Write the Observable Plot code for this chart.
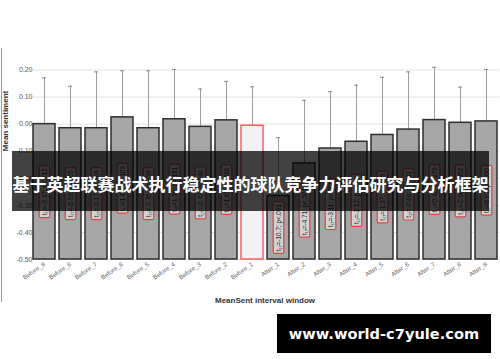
<!DOCTYPE html>
<html><head><meta charset="utf-8">
<script src="https://cdn.jsdelivr.net/npm/d3@7"></script>
<script src="https://cdn.jsdelivr.net/npm/@observablehq/plot@0.6"></script>
<style>
body{margin:0;background:#fff;}
#wrap{position:relative;width:500px;height:362px;overflow:hidden;font-family:"Liberation Sans",Arial,sans-serif;background:#fff;}
#wrap svg{position:absolute;left:0;top:0;}
.abs{position:absolute;}
#border{left:1px;top:48px;width:1px;height:254px;background:#9a9a9a;}
#ylab{left:4.5px;top:121px;transform:translate(-50%,-50%) rotate(-90deg);font-weight:bold;font-size:8px;color:#333;white-space:nowrap;}
#xlab{left:265px;top:296px;transform:translateX(-50%);font-weight:bold;font-size:8px;color:#333;white-space:nowrap;}
#banner{left:12px;top:151px;width:477px;height:60px;background:rgba(0,0,0,0.74);color:#fff;font-family:"Noto Sans CJK SC",sans-serif;font-weight:bold;font-size:17px;display:flex;align-items:center;justify-content:center;padding-top:5px;box-sizing:border-box;white-space:nowrap;}
#mark{left:277px;top:314px;width:214px;height:39px;background:#000;color:#fff;font-family:"DejaVu Sans",sans-serif;font-weight:bold;font-size:14.6px;display:flex;align-items:center;justify-content:center;white-space:nowrap;}
</style></head>
<body><div id="wrap"></div>
<script>
const windows = ["Before_9","Before_8","Before_7","Before_6","Before_5","Before_4","Before_3","Before_2","Before_1",
  "After_1","After_2","After_3","After_4","After_5","After_6","After_7","After_8","After_9"];
const meanValues = [0.000,-0.015,-0.015,0.025,-0.015,0.018,-0.010,0.014,-0.006,
  -0.265,-0.145,-0.090,-0.065,-0.040,-0.020,0.015,0.005,0.010];
const upperValues = [0.171,0.140,0.193,0.197,0.197,0.202,0.130,0.158,0.138,
  -0.050,0.088,0.120,0.144,0.173,0.193,0.210,0.137,0.202];
const tLabels = ["t₁₇=-0.37; p=.712","t₁₇=-0.59; p=.555","t₁₇=-0.17; p=.868","t₁₇=1.69; p=.109","t₁₇=-0.35; p=.728",
  "t₁₇=1.36; p=.191","t₁₇=-0.47; p=.646","t₁₇=1.65; p=.116","",
  "t₁₇=-10.7; p<.001","t₁₇=-4.71; p<.001","t₁₇=-3.11; p=.006","t₁₇=-2.12; p=.049","t₁₇=-1.37; p=.188",
  "t₁₇=-0.66; p=.511","t₁₇=0.42; p=.678","t₁₇=-0.06; p=.952","t₁₇=0.01; p=.990"];
const yTicks = [-0.5,-0.4,-0.3,-0.2,-0.1,0.0,0.1,0.2];
const baseline = -0.5;
const referenceWindow = "Before_1";
const title = "基于英超联赛战术执行稳定性的球队竞争力评估研究与分析框架";
const watermark = "www.world-c7yule.com";

const data = windows.map((w,i)=>({window:w, base:baseline, mean:meanValues[i], upper:upperValues[i],
  label:tLabels[i], mid:(baseline+meanValues[i])/2, ref:w===referenceWindow}));

const chart = Plot.plot({
  width:500, height:362,
  marginLeft:30.5, marginRight:0.5, marginTop:69.5, marginBottom:103,
  style:{background:"transparent", fontFamily:"Liberation Sans, Arial, sans-serif", overflow:"visible"},
  x:{type:"band", domain:windows, paddingInner:0.15, paddingOuter:0.075, label:null},
  y:{domain:[-0.5,0.2], label:null},
  marks:[
    Plot.ruleY(yTicks, {stroke:"#e3e3e3", strokeWidth:1}),
    Plot.axisY({ticks:yTicks, tickFormat:d=>d.toFixed(2), tickSize:0, tickPadding:-1.5, fontSize:7, fill:"#5a5a5a", label:null}),
    Plot.axisX({tickRotate:-35, tickSize:0, tickPadding:4, fontSize:6.3, fill:"#666", label:null}),
    Plot.ruleX(data, {x:"window", y1:"mean", y2:"upper", stroke:"#9c9c9c", strokeWidth:1}),
    Plot.tickY(data, {x:"window", y:"upper", stroke:"#8a8a8a", strokeWidth:1, insetLeft:9, insetRight:9}),
    Plot.barY(data, {x:"window", y1:"base", y2:"mean",
      fill:d=>d.ref?"#f2f2f2":"#a6a6a6", stroke:d=>d.ref?"#ff5c5c":"#2e2e2e", strokeWidth:1.5}),
    Plot.text(data.filter(d=>d.label), {x:"window", y:"mid", text:"label", rotate:-90,
      fontSize:6.3, fill:"#1e1e1e"})
  ]
});

const wrap = document.getElementById("wrap");
wrap.append(chart);

// boxes behind t-labels, sized from the rendered text
const labelSet = new Set(tLabels.filter(Boolean));
Array.from(chart.querySelectorAll("text")).filter(t=>labelSet.has(t.textContent)).forEach(t=>{
  const bb = t.getBBox();
  const r = document.createElementNS("http://www.w3.org/2000/svg","rect");
  const px = 2.2, py = 1.3;
  r.setAttribute("x", bb.x-px); r.setAttribute("y", bb.y-py);
  r.setAttribute("width", bb.width+2*px); r.setAttribute("height", bb.height+2*py);
  r.setAttribute("rx", 1.5);
  r.setAttribute("fill", "#d2d2d2"); r.setAttribute("stroke", "#e8403f"); r.setAttribute("stroke-width", 1.2);
  const tr = t.getAttribute("transform"); if (tr) r.setAttribute("transform", tr);
  t.parentNode.insertBefore(r, t);
});

function addDiv(id, txt){ const d=document.createElement("div"); d.id=id; d.className="abs"; if(txt) d.textContent=txt; wrap.append(d); return d; }
addDiv("border");
addDiv("ylab","Mean sentiment");
addDiv("xlab","MeanSent interval window");
addDiv("banner", title);
addDiv("mark", watermark);
</script>
</body></html>
